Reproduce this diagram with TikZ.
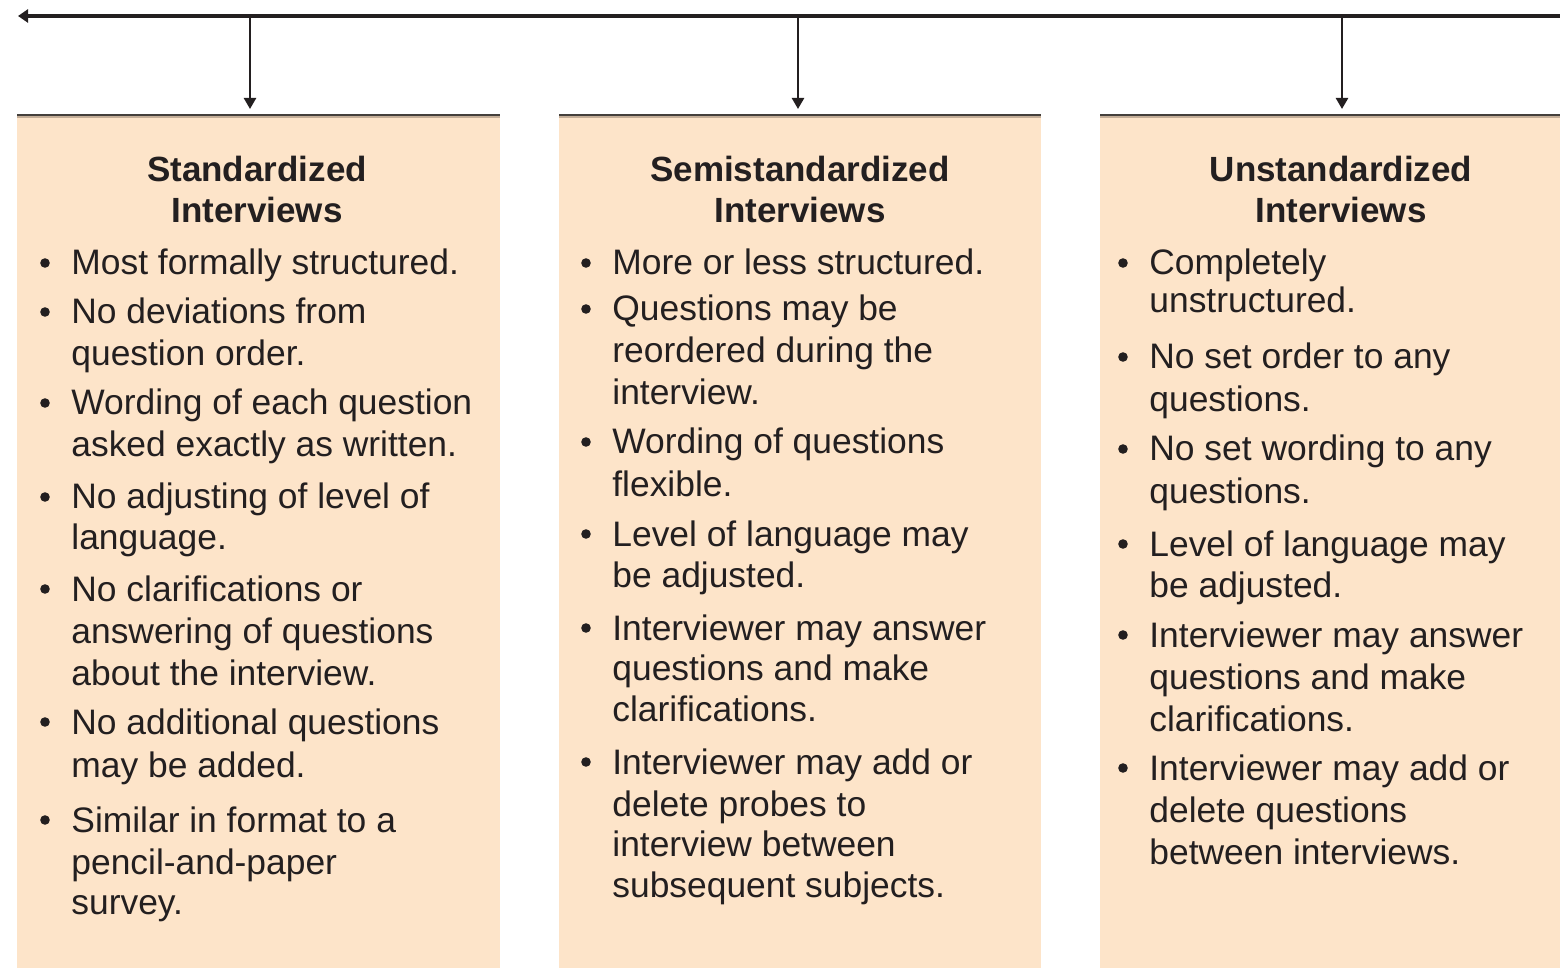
\documentclass[tikz,border=0pt]{standalone}
\usepackage{fontspec}
\setmainfont{Liberation Sans}
\usetikzlibrary{arrows.meta}
\definecolor{boxfill}{HTML}{FDE4C9}
\definecolor{ink}{HTML}{231F20}
\definecolor{rimdark}{HTML}{45403C}
\definecolor{rimlight}{HTML}{C4AE98}
\tikzset{
  txt/.style={anchor=base west, inner sep=0pt, text=ink, font=\fontsize{17.7}{21}\selectfont},
  ttl/.style={anchor=base, inner sep=0pt, text=ink, font=\bfseries\fontsize{17.5}{21}\selectfont},
  dot/.style={circle, fill=ink, inner sep=0pt, minimum size=4.8pt},
  arr/.style={draw=ink, line width=1.2pt, -{Triangle[length=5.5pt,width=6pt]}},
  mainarr/.style={draw=ink, line width=1.8pt, -{Triangle[length=5pt,width=6.5pt]}},
}
\begin{document}
\begin{tikzpicture}[x=0.5pt,y=-0.5pt]
\useasboundingbox (0,0) rectangle (1560,968);
% boxes
\foreach \l/\r [count=\k] in {17/500,559/1041,1100/1582}{
  \fill[boxfill] (\l,114) rectangle (\r,1000);
  \draw[rimlight, line width=1pt] (\l,117.5) -- (\r,117.5);
  \draw[rimdark, line width=1.2pt] (\l,115) -- (\r,115);
}
% connectors
\coordinate (lineR) at (1620,16);
\coordinate (lineL) at (18,16);
\draw[mainarr] (lineR) -- (lineL);
\foreach \x [count=\k] in {250,798,1342}{
  \coordinate (top\k) at (\x,16);
  \coordinate (boxn\k) at (\x,109);
  \draw[arr] (top\k) -- (boxn\k);
}
% titles
\node[ttl] (t1a) at (257,182) {Standardized};
\node[ttl] (t1b) at (257,223) {Interviews};
\node[ttl] (t2a) at (800,182) {Semistandardized};
\node[ttl] (t2b) at (800,223) {Interviews};
\node[ttl] (t3a) at (1341,182) {Unstandardized};
\node[ttl] (t3b) at (1341,223) {Interviews};
% column 1
\foreach \y/\t [count=\i] in {
  275/{Most formally structured.},
  324/{No deviations from},
  366/{question order.},
  415/{Wording of each question},
  457/{asked exactly as written.},
  509/{No adjusting of level of},
  549/{language.},
  601/{No clarifications or},
  643/{answering of questions},
  685/{about the interview.},
  734/{No additional questions},
  777/{may be added.},
  832/{Similar in format to a},
  874/{pencil-and-paper},
  914/{survey.}}
  \node[txt] (a\i) at (71,\y) {\t};
\foreach \y [count=\i] in {275,324,415,509,601,734,832}
  \node[dot] (ad\i) at (45,\y-12) {};
% column 2
\foreach \y/\t [count=\i] in {
  275/{More or less structured.},
  321/{Questions may be},
  363/{reordered during the},
  405/{interview.},
  454/{Wording of questions},
  496/{flexible.},
  546/{Level of language may},
  588/{be adjusted.},
  640/{Interviewer may answer},
  680/{questions and make},
  721/{clarifications.},
  774/{Interviewer may add or},
  816/{delete probes to},
  856/{interview between},
  897/{subsequent subjects.}}
  \node[txt] (b\i) at (612,\y) {\t};
\foreach \y [count=\i] in {275,321,454,546,640,774}
  \node[dot] (bd\i) at (586,\y-12) {};
% column 3
\foreach \y/\t [count=\i] in {
  275/{Completely},
  313/{unstructured.},
  369/{No set order to any},
  412/{questions.},
  461/{No set wording to any},
  503/{questions.},
  556/{Level of language may},
  597/{be adjusted.},
  647/{Interviewer may answer},
  689/{questions and make},
  731/{clarifications.},
  780/{Interviewer may add or},
  822/{delete questions},
  864/{between interviews.}}
  \node[txt] (c\i) at (1149,\y) {\t};
\foreach \y [count=\i] in {275,369,461,556,647,780}
  \node[dot] (cd\i) at (1123,\y-12) {};
\end{tikzpicture}
\end{document}
